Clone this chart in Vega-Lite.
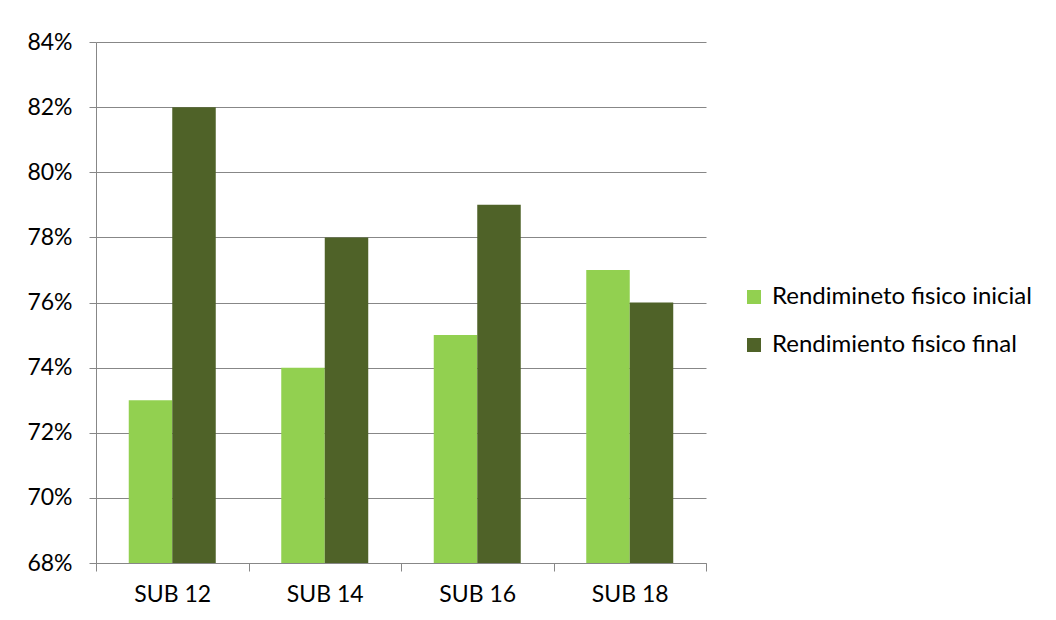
{
  "$schema": "https://vega.github.io/schema/vega-lite/v6.json",
  "width": 610,
  "height": 521,
  "autosize": {"type": "none"},
  "padding": {"left": 96, "top": 42, "right": 350, "bottom": 57},
  "background": "white",
  "data": {
    "values": [
      {"grupo": "SUB 12", "serie": "Rendimineto fisico inicial", "valor": 0.73},
      {"grupo": "SUB 12", "serie": "Rendimiento fisico final", "valor": 0.82},
      {"grupo": "SUB 14", "serie": "Rendimineto fisico inicial", "valor": 0.74},
      {"grupo": "SUB 14", "serie": "Rendimiento fisico final", "valor": 0.78},
      {"grupo": "SUB 16", "serie": "Rendimineto fisico inicial", "valor": 0.75},
      {"grupo": "SUB 16", "serie": "Rendimiento fisico final", "valor": 0.79},
      {"grupo": "SUB 18", "serie": "Rendimineto fisico inicial", "valor": 0.77},
      {"grupo": "SUB 18", "serie": "Rendimiento fisico final", "valor": 0.76}
    ]
  },
  "mark": {"type": "bar", "clip": true},
  "encoding": {
    "x": {
      "field": "grupo",
      "type": "nominal",
      "title": null,
      "scale": {"paddingInner": 0, "paddingOuter": 0},
      "axis": {
        "tickBand": "extent",
        "labelAngle": 0,
        "tickSize": 8,
        "labelPadding": 12,
        "domainColor": "#878787",
        "tickColor": "#878787",
        "grid": false
      }
    },
    "xOffset": {
      "field": "serie",
      "type": "nominal",
      "sort": ["Rendimineto fisico inicial", "Rendimiento fisico final"],
      "scale": {"paddingInner": 0, "paddingOuter": 0.753}
    },
    "y": {
      "field": "valor",
      "type": "quantitative",
      "title": null,
      "scale": {"domain": [0.68, 0.84], "zero": false, "nice": false},
      "axis": {
        "values": [0.68, 0.70, 0.72, 0.74, 0.76, 0.78, 0.80, 0.82, 0.84],
        "format": ".0%",
        "tickSize": 7,
        "labelPadding": 17,
        "domainColor": "#878787",
        "tickColor": "#878787",
        "grid": true,
        "gridColor": "#878787"
      }
    },
    "color": {
      "field": "serie",
      "type": "nominal",
      "sort": ["Rendimineto fisico inicial", "Rendimiento fisico final"],
      "scale": {"range": ["#92D050", "#4F6228"]},
      "legend": {
        "title": null,
        "orient": "none",
        "legendX": 646,
        "legendY": 243,
        "symbolType": "square",
        "symbolSize": 196,
        "symbolStrokeWidth": 0,
        "rowPadding": 24,
        "labelOffset": 6
      }
    }
  },
  "config": {
    "font": "Lato",
    "view": {"stroke": null},
    "axis": {"labelFontSize": 23, "labelColor": "#000000", "labelFont": "Lato"},
    "legend": {"labelFontSize": 24, "labelColor": "#000000", "labelFont": "Lato", "labelLimit": 400}
  }
}
